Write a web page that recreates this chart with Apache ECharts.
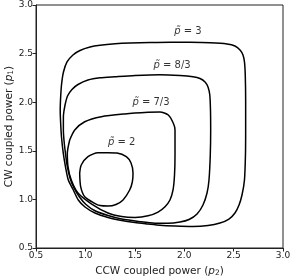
<!DOCTYPE html>
<html><head><meta charset="utf-8">
<script src="https://cdn.jsdelivr.net/npm/echarts@6/dist/echarts.min.js"></script>
<style>html,body{margin:0;padding:0;background:#fff}#c{width:291px;height:278px}</style>
</head><body><div id="c"></div>
<script>
// closed curves (x = CCW p2, y = CW p1), clockwise from the left side
const curve3 = [[0.748,2.023],[0.758,2.177],[0.778,2.311],[0.814,2.414],[0.874,2.486],[0.945,2.532],[1.047,2.568],[1.148,2.586],[1.300,2.601],[1.451,2.609],[1.654,2.614],[1.856,2.617],[2.059,2.616],[2.261,2.611],[2.433,2.599],[2.514,2.578],[2.565,2.537],[2.595,2.486],[2.610,2.414],[2.618,2.280],[2.622,2.023],[2.622,1.714],[2.620,1.457],[2.610,1.200],[2.585,1.045],[2.555,0.942],[2.514,0.860],[2.453,0.798],[2.362,0.757],[2.241,0.731],[2.089,0.721],[1.907,0.726],[1.755,0.734],[1.634,0.747],[1.502,0.762],[1.367,0.783],[1.229,0.814],[1.097,0.860],[0.996,0.922],[0.928,0.994],[0.878,1.097],[0.827,1.200],[0.799,1.333],[0.776,1.477],[0.758,1.642],[0.748,1.817],[0.745,1.920],[0.748,2.023]];
const curve83 = [[0.777,1.817],[0.778,1.868],[0.794,1.971],[0.819,2.064],[0.864,2.131],[0.925,2.182],[1.026,2.228],[1.148,2.251],[1.300,2.262],[1.502,2.275],[1.755,2.283],[1.957,2.275],[2.089,2.262],[2.160,2.244],[2.211,2.208],[2.241,2.156],[2.259,2.074],[2.266,1.920],[2.268,1.714],[2.264,1.457],[2.251,1.200],[2.231,1.066],[2.190,0.942],[2.130,0.850],[2.049,0.793],[1.957,0.767],[1.836,0.754],[1.704,0.755],[1.553,0.771],[1.367,0.798],[1.229,0.834],[1.097,0.883],[1.006,0.948],[0.940,1.025],[0.885,1.117],[0.844,1.220],[0.814,1.354],[0.794,1.508],[0.783,1.611],[0.777,1.714],[0.777,1.817]];
const curve73 = [[0.841,1.611],[0.892,1.714],[0.993,1.799],[1.161,1.851],[1.398,1.879],[1.634,1.896],[1.755,1.900],[1.839,1.868],[1.890,1.783],[1.907,1.714],[1.907,1.457],[1.902,1.251],[1.887,1.097],[1.856,0.994],[1.806,0.925],[1.735,0.870],[1.634,0.831],[1.502,0.815],[1.367,0.824],[1.229,0.860],[1.060,0.955],[0.925,1.066],[0.857,1.200],[0.824,1.336],[0.817,1.474],[0.841,1.611]];
const curve2 = [[0.942,1.269],[0.958,1.354],[1.026,1.439],[1.128,1.480],[1.229,1.480],[1.320,1.477],[1.414,1.439],[1.462,1.374],[1.482,1.269],[1.475,1.179],[1.448,1.097],[1.381,0.994],[1.310,0.948],[1.229,0.932],[1.148,0.937],[1.094,0.960],[0.993,1.028],[0.952,1.131],[0.942,1.269]];
const labelTexts = ['3','8/3','7/3','2'];
const labelPos = [[2.038,2.727],[1.877,2.383],[1.664,2.002],[1.367,1.583]];
const axisMin = 0.5, axisMax = 3.0, axisStep = 0.5;

const FONT = 'DejaVu Sans';
const chart = echarts.init(document.getElementById('c'), null, {renderer:'canvas'});
const lineS = (d) => ({type:'line', data:d, smooth:0.25, showSymbol:false, symbol:'none',
  lineStyle:{color:'#000', width:1.5}, z:3, animation:false});
const axisCommon = {
  type:'value', min:axisMin, max:axisMax, interval:axisStep,
  axisLine:{show:true, onZero:false, lineStyle:{color:'#222', width:1}},
  axisTick:{show:true, length:3.5, lineStyle:{color:'#222', width:1}},
  axisLabel:{color:'#222', fontFamily:FONT, fontSize:9, margin:3, formatter:v=>v.toFixed(1)},
  splitLine:{show:false},
  nameLocation:'middle',
  nameMoveOverlap:false,
  nameTextStyle:{color:'#222', fontFamily:FONT, fontSize:10.5,
    rich:{i:{fontStyle:'italic', fontFamily:FONT, fontSize:10.5, color:'#222'},
          s:{fontFamily:FONT, fontSize:7.5, color:'#222', verticalAlign:'bottom', padding:[4,0,0,0]}}}
};
const option = {
  animation:false,
  grid:{left:36, right:8, top:5, bottom:30, containLabel:false, outerBoundsMode:'none',
        show:true, borderColor:'#222', borderWidth:1},
  xAxis:Object.assign({}, axisCommon, {name:'CCW coupled power ({i|p}{s|2})', nameGap:17}),
  yAxis:Object.assign({}, axisCommon, {name:'CW coupled power ({i|p}{s|1})', nameGap:21}),
  series:[lineS(curve3), lineS(curve83), lineS(curve73), lineS(curve2),
    {type:'scatter', symbolSize:0, z:5, animation:false,
     data:labelPos.map((p,i)=>({value:p, name:labelTexts[i]})),
     label:{show:true, position:'inside', color:'#000', fontFamily:FONT, fontSize:10,
       formatter:(p)=>'{i|p\u0303} = '+p.name,
       rich:{i:{fontStyle:'italic', fontFamily:FONT, fontSize:10, color:'#000'}}}}
  ]
};
chart.setOption(option);
</script></body></html>
